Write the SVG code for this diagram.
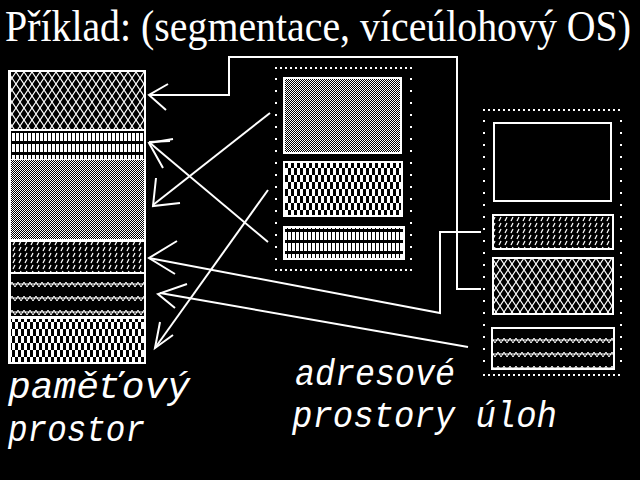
<svg xmlns="http://www.w3.org/2000/svg" width="640" height="480" viewBox="0 0 640 480">
<style>
.t{fill:#fff;font-family:"Liberation Serif",serif}
.lbl{fill:#fff;font-family:"Liberation Mono","DejaVu Sans Mono",monospace;font-style:italic}
.c{fill:none;stroke:#fff;stroke-width:2}
.box{stroke:#fff;stroke-width:2}
.dh{stroke:#fff;stroke-width:2;stroke-dasharray:2 3}
.dv{stroke:#fff;stroke-width:2;stroke-dasharray:2 10}
</style>
<defs>
<pattern id="lat" width="8" height="12" patternUnits="userSpaceOnUse">
<rect width="8" height="12" fill="#000"/>
<path d="M0 0L8 12M8 0L0 12" stroke="#fff" stroke-width="1.2"/>
</pattern>
<pattern id="bars" width="4" height="11" patternUnits="userSpaceOnUse">
<rect width="4" height="11" fill="#000"/>
<rect x="0" y="1" width="3" height="8" fill="#fff"/>
</pattern>
<pattern id="fine" width="2" height="2" patternUnits="userSpaceOnUse">
<rect width="2" height="2" fill="#000"/>
<rect width="1" height="1" fill="#fff"/>
<rect x="1" y="1" width="1" height="1" fill="#fff"/>
</pattern>
<pattern id="dark" width="6" height="6" patternUnits="userSpaceOnUse">
<rect width="6" height="6" fill="#000"/>
<path d="M1 5L3 1" stroke="#fff" stroke-width="1.2"/>
</pattern>
<pattern id="zig" width="6" height="14" patternUnits="userSpaceOnUse">
<rect width="6" height="14" fill="#000"/>
<path d="M0 2L3 7L6 2M0 4L6 4" stroke="#fff" stroke-width="1"/>
</pattern>
<pattern id="chk" width="6" height="14" patternUnits="userSpaceOnUse">
<rect width="6" height="14" fill="#fff"/>
<rect width="3" height="7" fill="#000"/>
<rect x="3" y="7" width="3" height="7" fill="#000"/>
</pattern>
</defs>
<rect width="640" height="480" fill="#000"/>
<text class="t" x="5" y="35.6" font-size="38" transform="scale(1,1.15)" textLength="626" lengthAdjust="spacingAndGlyphs">Příklad: (segmentace, víceúlohový OS)</text>

<g id="pametovy-prostor">
<rect x="8" y="70" width="138" height="294" fill="#fff"/>
<rect x="11" y="72" width="133" height="57" fill="url(#lat)"/>
<rect x="11" y="131" width="133" height="28" fill="url(#bars)"/>
<rect x="11" y="160" width="133" height="79" fill="url(#fine)"/>
<rect x="11" y="242" width="133" height="30" fill="url(#dark)"/>
<rect x="11" y="274" width="133" height="42" fill="url(#zig)"/>
<rect x="11" y="319" width="133" height="43" fill="url(#chk)"/>
</g>

<g id="uloha1">
<path class="dh" d="M275 68H413M275 270H413"/>
<path class="dv" d="M276 78V268M411 78V268"/>
<rect class="box" x="284" y="78" width="117" height="75" fill="url(#fine)"/>
<rect class="box" x="284" y="162" width="118" height="54" fill="url(#chk)"/>
<rect class="box" x="284" y="227" width="120" height="32" fill="url(#bars)"/>
</g>

<g id="uloha2">
<path class="dh" d="M483 110H623M483 375H623"/>
<path class="dv" d="M484 120V372M621 120V372"/>
<rect class="box" x="494" y="123" width="117" height="78" fill="none"/>
<rect class="box" x="493" y="215" width="120" height="34" fill="url(#dark)"/>
<rect class="box" x="493" y="258" width="120" height="56" fill="url(#lat)"/>
<rect class="box" x="492" y="328" width="122" height="41" fill="url(#zig)"/>
</g>

<g id="connectors">
<path class="c" d="M481 289H457V57H229V95H149"/>
<path class="c" d="M168 84L149 95L166 110"/>
<path class="c" d="M481 232H440V313L149 258"/>
<path class="c" d="M177 241L149 258L175 274"/>
<path class="c" d="M468 347L160 293"/>
<path class="c" d="M187 284L158 294L175 308"/>
<path class="c" d="M270 113L153 205"/>
<path class="c" d="M180 203L153 206L156 178"/>
<path class="c" d="M268 242L150 143"/>
<path class="c" d="M173 139L149 143L163 168"/>
<path class="c" d="M170 141L149 142" stroke-width="5"/>
<path class="c" d="M268 190L155 348"/>
<path class="c" d="M173 335L155 348L160 322"/>
</g>

<g id="popisky">
<text class="lbl" x="8" y="398" font-size="36" textLength="182" lengthAdjust="spacingAndGlyphs">paměťový</text>
<text class="lbl" x="8" y="441" font-size="36" textLength="137" lengthAdjust="spacingAndGlyphs">prostor</text>
<text class="lbl" x="295" y="385" font-size="36" textLength="160" lengthAdjust="spacingAndGlyphs">adresové</text>
<text class="lbl" x="292" y="427" font-size="36" textLength="265" lengthAdjust="spacingAndGlyphs">prostory úloh</text>
</g>
</svg>
